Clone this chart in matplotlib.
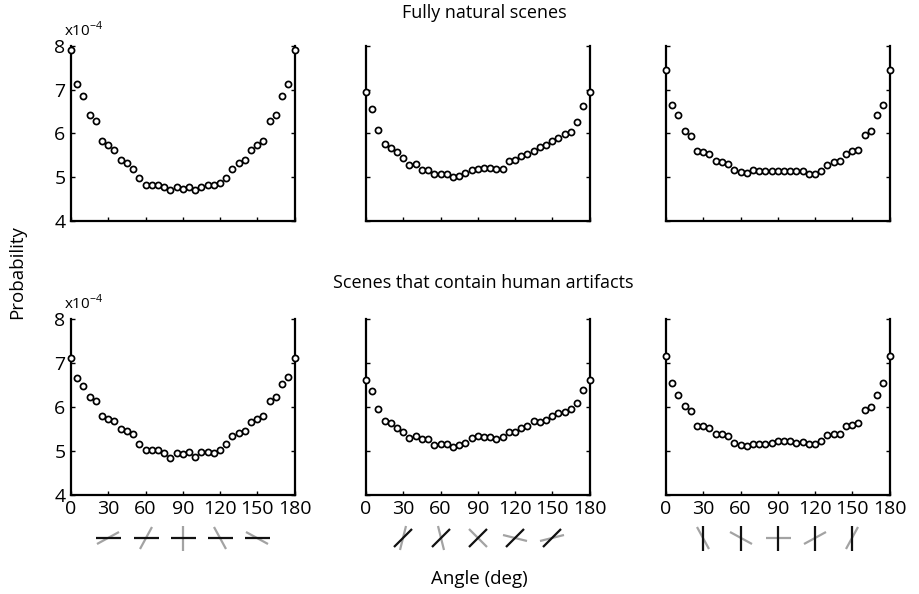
#!/usr/bin/env python
# encoding:utf-8

import numpy as np
import matplotlib
matplotlib.use('Agg')
import matplotlib.pyplot as plt
from matplotlib.markers import MarkerStyle
from matplotlib.transforms import Affine2D, blended_transform_factory

plt.rcParams['font.family'] = ['Open Sans', 'DejaVu Sans']
plt.rcParams['mathtext.fontset'] = 'custom'
plt.rcParams['mathtext.rm'] = 'Open Sans'

angles = np.arange(0, 181, 5)

# probability (x1e-4), fully natural scenes, reference bar at 0 / 45 / 90 deg
natural_0 = [7.90, 7.13, 6.85, 6.43, 6.28, 5.82, 5.73, 5.63, 5.40, 5.32, 5.20, 4.98,
             4.83, 4.83, 4.83, 4.77, 4.72, 4.77, 4.74, 4.77, 4.72, 4.77, 4.83, 4.83,
             4.86, 4.98, 5.20, 5.32, 5.40, 5.63, 5.73, 5.82, 6.28, 6.43, 6.85, 7.13, 7.90]
natural_45 = [6.94, 6.55, 6.07, 5.77, 5.67, 5.57, 5.45, 5.29, 5.30, 5.17, 5.17, 5.08,
              5.08, 5.08, 5.01, 5.02, 5.09, 5.17, 5.20, 5.21, 5.21, 5.18, 5.20, 5.38,
              5.39, 5.48, 5.54, 5.61, 5.68, 5.73, 5.83, 5.90, 5.98, 6.03, 6.25, 6.62, 6.94]
natural_90 = [7.44, 6.65, 6.42, 6.06, 5.95, 5.61, 5.58, 5.53, 5.38, 5.34, 5.30, 5.16,
              5.11, 5.09, 5.16, 5.14, 5.15, 5.15, 5.15, 5.15, 5.15, 5.14, 5.15, 5.08,
              5.08, 5.15, 5.29, 5.35, 5.37, 5.53, 5.59, 5.62, 5.96, 6.06, 6.42, 6.65, 7.44]

# scenes that contain human artifacts
artifact_0 = [7.12, 6.65, 6.47, 6.22, 6.12, 5.78, 5.73, 5.68, 5.50, 5.44, 5.38, 5.15,
              5.02, 5.02, 5.02, 4.95, 4.83, 4.95, 4.92, 4.96, 4.85, 4.96, 4.98, 4.95,
              5.02, 5.14, 5.33, 5.40, 5.45, 5.65, 5.72, 5.78, 6.12, 6.23, 6.52, 6.67, 7.12]
artifact_45 = [6.62, 6.36, 5.94, 5.68, 5.62, 5.52, 5.43, 5.29, 5.34, 5.26, 5.26, 5.13,
               5.16, 5.16, 5.09, 5.12, 5.18, 5.29, 5.33, 5.32, 5.32, 5.27, 5.30, 5.42,
               5.43, 5.52, 5.57, 5.67, 5.65, 5.70, 5.80, 5.86, 5.89, 5.94, 6.08, 6.38, 6.62]
artifact_90 = [7.15, 6.54, 6.27, 6.01, 5.90, 5.57, 5.55, 5.52, 5.38, 5.37, 5.33, 5.18,
               5.12, 5.11, 5.14, 5.15, 5.15, 5.18, 5.21, 5.21, 5.21, 5.18, 5.20, 5.15,
               5.16, 5.21, 5.36, 5.39, 5.39, 5.56, 5.59, 5.62, 5.92, 6.00, 6.27, 6.53, 7.15]

rows = [[natural_0, natural_45, natural_90],
        [artifact_0, artifact_45, artifact_90]]
row_titles = ['Fully natural scenes', 'Scenes that contain human artifacts']

# icons under the x axis: black reference bar + gray bar rotated by offset
ref_angles = [0, 45, 90]
icon_offsets = [30, 60, 90, 120, 150]

W, H = 919, 594
lefts = [71, 366, 666]
width = 223.5
tops = [45.7, 319]
height = 175.5


def main():
    fig = plt.figure(figsize=(W / 100., H / 100.), dpi=100)
    axes = []
    for r in range(2):
        for c in range(3):
            ax = fig.add_axes([lefts[c] / W, 1 - (tops[r] + height) / H,
                               width / W, height / H])
            ax.plot(angles, rows[r][c], 'o', mfc='white', mec='k', ms=4.4,
                    mew=1.25, clip_on=False, zorder=3)
            ax.set_xlim(0, 180)
            ax.set_ylim(4, 8)
            ax.set_xticks(range(0, 181, 30))
            ax.set_yticks(range(4, 9))
            ax.spines['top'].set_visible(False)
            for s in ['left', 'right', 'bottom']:
                ax.spines[s].set_linewidth(1.6)
            ax.tick_params(direction='in', length=3, width=1, right=True,
                           top=False, labelsize=14, pad=4)
            if r == 0:
                ax.tick_params(labelbottom=False)
            if c > 0:
                ax.tick_params(labelleft=False)
            else:
                ax.text(-0.03, 1.035, r'x10$^{-4}$', transform=ax.transAxes,
                        fontsize=11, ha='left', va='bottom')
            axes.append(ax)

    fig.text(0.527, 1 - 12.5 / H, row_titles[0], ha='center', va='center',
             fontsize=13)
    fig.text(0.526, 1 - 282.5 / H, row_titles[1], ha='center', va='center',
             fontsize=13)
    fig.text(17.0 / W, 1 - 272.0 / H, 'Probability', rotation=90,
             ha='center', va='center', fontsize=13.5)
    fig.text(479.5 / W, 1 - 579.0 / H, 'Angle (deg)', ha='center',
             va='center', fontsize=13.5)

    for c, ref in enumerate(ref_angles):
        ax = axes[3 + c]
        trans = blended_transform_factory(ax.transData, ax.transAxes)
        for off in icon_offsets:
            gray = MarkerStyle('_', transform=Affine2D().rotate_deg(ref + off))
            black = MarkerStyle('_', transform=Affine2D().rotate_deg(ref))
            ax.plot([off], [-0.248], marker=gray, ms=18, mew=1.6,
                    color='#a3a3a3', transform=trans, clip_on=False)
            ax.plot([off], [-0.248], marker=black, ms=18, mew=1.6,
                    color='#111111', transform=trans, clip_on=False)

    fig.savefig('out.png', dpi=100)


if __name__ == '__main__':
    main()
